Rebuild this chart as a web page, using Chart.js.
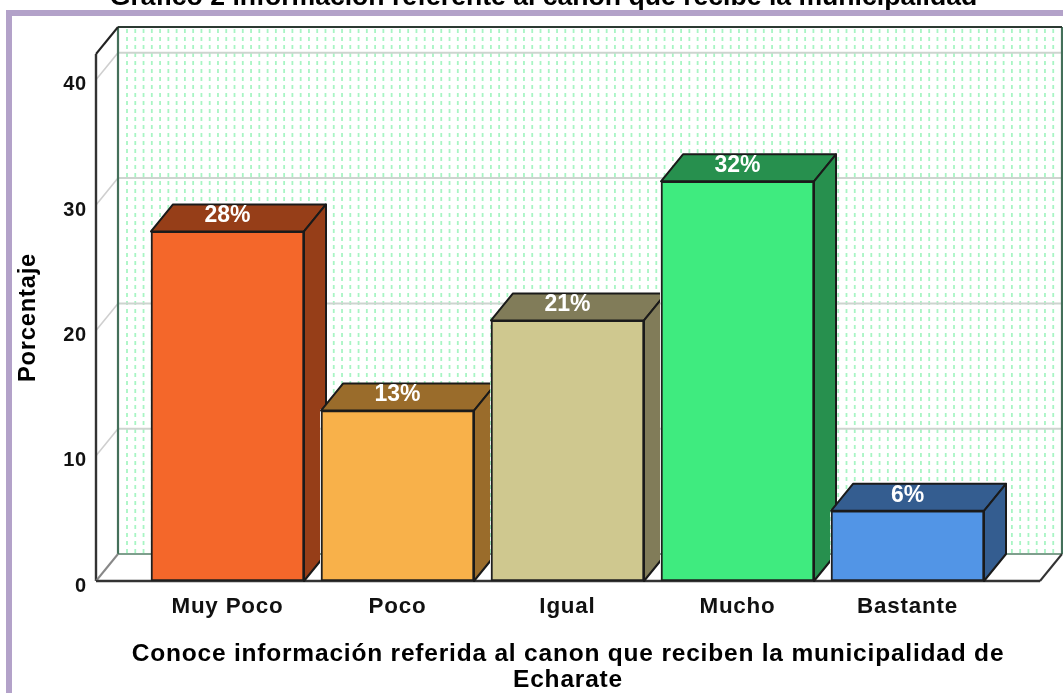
<!DOCTYPE html>
<html><head><meta charset="utf-8">
<style>html,body{margin:0;padding:0;background:#fff;overflow:hidden}canvas{display:block}</style>
<script src="https://cdn.jsdelivr.net/npm/chart.js@4"></script></head>
<body><div style="width:1063px;height:693px;position:relative"><canvas id="c"></canvas></div>
<script>
const chartTitle = "Gráfico 2 información referente al canon que recibe la municipalidad";
const categories = ["Muy Poco","Poco","Igual","Mucho","Bastante"];
const values = [27.9,13.6,20.8,31.9,5.6];
const valueLabels = ["28%","13%","21%","32%","6%"];
const frontColors = ["#f4672a","#f8b14a","#cfc88f","#3feb7f","#5295e6"];
const darkColors = ["#963e18","#9a6c2b","#817c59","#27904e","#345d90"];
const yTicks = [0,10,20,30,40];
const xTitle = ["Conoce información referida al canon que reciben la municipalidad de","Echarate"];
const yTitle = "Porcentaje";
const DX=22, DY=-27;
const SANS='"Liberation Sans",Arial,sans-serif';

function line(c,x1,y1,x2,y2,col,w){c.strokeStyle=col;c.lineWidth=w;c.beginPath();c.moveTo(x1,y1);c.lineTo(x2,y2);c.stroke();}
function poly(c,pts,fill){c.fillStyle=fill;c.strokeStyle="#1a1a1a";c.lineWidth=2;c.lineJoin="round";c.beginPath();pts.forEach((p,i)=>i?c.lineTo(p[0],p[1]):c.moveTo(p[0],p[1]));c.closePath();c.fill();c.stroke();}

const box3d={id:"box3d",
 beforeDraw(ch){
  const c=ch.ctx,a=ch.chartArea,y=ch.scales.y;
  c.save();
  c.strokeStyle="#b3a2c9";c.lineWidth=6;c.strokeRect(9,13,1100,720);
  c.fillStyle="#000";c.font="bold 26.6px "+SANS;c.textAlign="center";c.textBaseline="alphabetic";
  c.fillText(chartTitle,543.5,5);
  const L=a.left,R=a.right,T=a.top,B=a.bottom;
  c.setLineDash([4,4]);
  c.strokeStyle="#a8f5c4";c.lineWidth=1.8;
  for(let x=L+DX+9;x<R+DX-1;x+=8.27){c.beginPath();c.moveTo(x,T+DY+2);c.lineTo(x,B+DY);c.stroke();}
  c.setLineDash([]);
  yTicks.forEach(v=>{const p=y.getPixelForValue(v);
    if(v>0){line(c,L+DX,p+DY,R+DX,p+DY,"#cdd4cf",2);line(c,L,p,L+DX,p+DY,"#cfcfcf",1.6);}
  });
  line(c,L+DX,B+DY,R+DX,B+DY,"#7f9f8d",2);
  line(c,L+DX,T+DY,L+DX,B+DY,"#44705a",2.2);
  line(c,R+DX,T+DY,R+DX,B+DY,"#44705a",2.2);
  line(c,L+DX,T+DY,R+DX,T+DY,"#2c3a32",2);
  line(c,L,T,L+DX,T+DY,"#222",2);
  line(c,L,T,L,B,"#333",2.4);
  line(c,L,B,L+DX,B+DY,"#888",2);
  line(c,R,B,R+DX,B+DY,"#333",2);
  line(c,L,B,R,B,"#333",2.4);
  c.restore();
  c.letterSpacing="0.8px";
 },
 afterDatasetsDraw(ch){
  const c=ch.ctx;const bars=ch.getDatasetMeta(0).data;
  c.save();
  c.letterSpacing="0px";
  bars.forEach((b,i)=>{
    const l=b.x-b.width/2,r=b.x+b.width/2,t=b.y,base=b.base;
    c.save();
    const nb=bars[i+1];
    c.beginPath();c.rect(0,0,1063,693);
    if(nb){c.rect(nb.x-nb.width/2-1,nb.y-1,nb.width+2,nb.base-nb.y+2);}
    c.clip("evenodd");
    poly(c,[[l,t],[r,t],[r+DX,t+DY],[l+DX,t+DY]],darkColors[i]);
    poly(c,[[r,t],[r,base],[r+DX,base+DY],[r+DX,t+DY]],darkColors[i]);
    c.restore();
  });
  c.fillStyle="#fff";c.font="bold 23px "+SANS;c.textAlign="center";c.textBaseline="middle";
  bars.forEach((b,i)=>c.fillText(valueLabels[i],b.x,b.y-15.5));
  c.restore();
 }
};

new Chart(document.getElementById("c"),{
 type:"bar",
 data:{datasets:[{
   data:values.map((v,i)=>({x:i,y:v})),
   backgroundColor:frontColors,borderColor:"#1f1f1f",borderWidth:2,borderSkipped:false,
   barThickness:153,grouped:false
 }]},
 plugins:[box3d],
 options:{
  responsive:true,maintainAspectRatio:false,animation:false,
  layout:{padding:{left:0,right:23,top:54,bottom:0}},
  plugins:{legend:{display:false},tooltip:{enabled:false}},
  scales:{
   x:{type:"linear",offset:false,min:-0.7735,max:4.7794,
      afterBuildTicks(s){s.ticks=categories.map((_,i)=>({value:i}));},
      afterFit(s){s.height=112;},
      grid:{display:false,drawTicks:false,offset:false},border:{display:false},
      ticks:{callback:v=>categories[v],color:"#111",padding:12,maxRotation:0,autoSkip:false,
             font:{family:SANS,size:22.4,weight:"bold"}},
      title:{display:true,text:xTitle,color:"#000",font:{family:SANS,size:24.5,weight:"bold",lineHeight:1.06},padding:{top:18,bottom:0}}
   },
   y:{min:0,max:42.06,
      afterBuildTicks(s){s.ticks=yTicks.map(v=>({value:v}));},
      afterFit(s){s.width=96;},
      grid:{display:false,drawTicks:false},border:{display:false},
      ticks:{color:"#111",padding:9,labelOffset:5,font:{family:SANS,size:20,weight:"bold"}},
      title:{display:true,text:yTitle,color:"#000",font:{family:SANS,size:23.7,weight:"bold"},padding:{top:14,bottom:0}}
   }
  }
 }
});
</script></body></html>
